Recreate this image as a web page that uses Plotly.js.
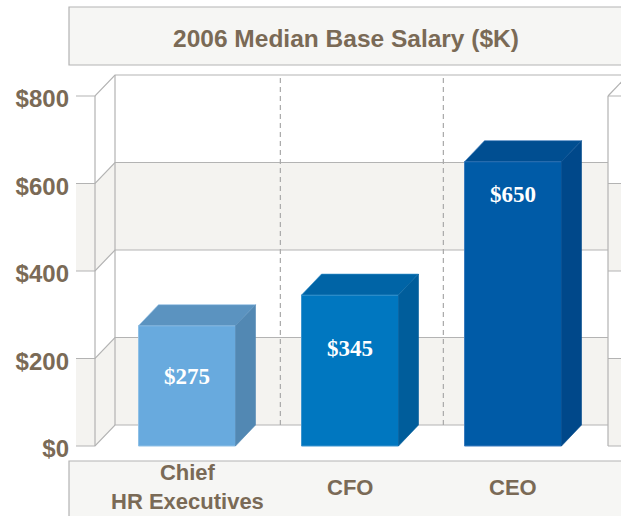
<!DOCTYPE html>
<html>
<head>
<meta charset="utf-8">
<script src="https://cdn.plot.ly/plotly-3.0.1.min.js"></script>
<style>html,body{margin:0;padding:0;background:#fff;}#chart{width:621px;height:516px;}</style>
</head>
<body>
<div id="chart"></div>
<script>
// ---- data ----
const chartTitle = '2006 Median Base Salary ($K)';
const categories = ['Chief<br>HR Executives', 'CFO', 'CEO'];
const salaries = [275, 345, 650];
const valueLabels = ['$275', '$345', '$650'];
const tickValues = [0, 200, 400, 600, 800];
const tickLabels = ['$0', '$200', '$400', '$600', '$800'];

// ---- styles ----
const frontColors = ['#68aade', '#0077c0', '#005ba7'];
const topColors   = ['#5b93c0', '#0064a6', '#004e91'];
const sideColors  = ['#5288b3', '#005d9b', '#00488a'];
const edgeColors  = ['#8fc0e6', '#3d95cf', '#3a7bbd'];
const labelDrop   = [115, 121, 76];
const TXT = '#7a6a56', GRID = '#b3b3b3', BAND = '#f4f3f0', BOX = '#f6f6f4';
const SANS = 'Liberation Sans, Arial, sans-serif';
const SERIF = 'Liberation Serif, Times New Roman, serif';

// ---- geometry (pixel anchors of the frame) ----
const W = 621, H = 516, ML = 76;
const PX0 = 187, PXU = 163;      // pixel of category 0, pixels per category
const PY0 = 446, PYU = 0.4375;   // pixel of $0, pixels per $K
const xr = [(ML - PX0) / PXU, (W - PX0) / PXU];
const yr = [(PY0 - H) / PYU, PY0 / PYU];
const DX = 20 / PXU, DY = 21 / PYU;
const X0 = (95 - PX0) / PXU;     // front-left axis
const XB = (608 - PX0) / PXU;    // back-right edge / next panel
const BAR_W = 97 / PXU;
const SEP_SHIFT = -0.05;
const ymax = tickValues[tickValues.length - 1];
const px = p => (p - ML) / (W - ML);
const py = p => 1 - p / H;
const path = pts => 'M' + pts.map(p => p[0] + ',' + p[1]).join('L');

const shapes = [];
// boxes
shapes.push({type:'rect', xref:'paper', yref:'paper', x0:px(69), x1:px(640), y0:py(65), y1:py(7),
  fillcolor:BOX, line:{color:GRID, width:1.2}, layer:'below'});
shapes.push({type:'rect', xref:'paper', yref:'paper', x0:px(69), x1:px(640), y0:py(540), y1:py(461),
  fillcolor:BOX, line:{color:GRID, width:1.2}, layer:'below'});
// bands
for (let i = 0; i + 1 < tickValues.length; i += 2) {
  const a = tickValues[i], b = tickValues[i + 1];
  shapes.push({type:'rect', xref:'x', yref:'y', x0:xr[0], x1:X0, y0:a, y1:b, fillcolor:BAND, line:{width:0}, layer:'below'});
  shapes.push({type:'path', xref:'x', yref:'y', path:path([[X0,a],[X0+DX,a+DY],[X0+DX,b+DY],[X0,b]])+'Z', fillcolor:BAND, line:{width:0}, layer:'below'});
  shapes.push({type:'rect', xref:'x', yref:'y', x0:X0+DX, x1:XB, y0:a+DY, y1:b+DY, fillcolor:BAND, line:{width:0}, layer:'below'});
  shapes.push({type:'rect', xref:'x', yref:'y', x0:XB, x1:xr[1]+0.2, y0:a, y1:b, fillcolor:BAND, line:{width:0}, layer:'below'});
}
const ln = {color:GRID, width:1.2};
// grid lines
tickValues.forEach(v => {
  const xend = v === ymax ? xr[1] + 0.2 : XB;
  shapes.push({type:'path', xref:'x', yref:'y', path:path([[xr[0],v],[X0,v],[X0+DX,v+DY],[xend,v+DY]]), line:ln, layer:'below'});
  shapes.push({type:'line', xref:'x', yref:'y', x0:XB, x1:xr[1]+0.2, y0:v, y1:v, line:ln, layer:'below'});
});
// verticals
shapes.push({type:'line', xref:'x', yref:'y', x0:X0, x1:X0, y0:0, y1:ymax, line:ln, layer:'below'});
shapes.push({type:'line', xref:'x', yref:'y', x0:X0+DX, x1:X0+DX, y0:DY, y1:ymax+DY, line:ln, layer:'below'});
shapes.push({type:'line', xref:'x', yref:'y', x0:XB, x1:XB, y0:0, y1:ymax, line:ln, layer:'below'});
shapes.push({type:'line', xref:'x', yref:'y', x0:XB, x1:XB+DX, y0:ymax, y1:ymax+DY, line:ln, layer:'below'});
// dashed category separators on back wall
for (let k = 0; k + 1 < categories.length; k++) {
  const xs = k + 0.5 + SEP_SHIFT + DX;
  shapes.push({type:'line', xref:'x', yref:'y', x0:xs, x1:xs, y0:DY, y1:ymax+DY,
    line:{color:'#a8a8a8', width:1.2, dash:'5px,4px'}, layer:'below'});
}

// ---- traces ----
const xs = categories.map((c, i) => i);
const traces = [{
  type:'bar', x:xs, y:salaries, width:BAR_W,
  marker:{color:frontColors, line:{color:edgeColors, width:1}},
  hoverinfo:'none', showlegend:false
}];
salaries.forEach((v, i) => {
  const l = xs[i] - BAR_W / 2, r = xs[i] + BAR_W / 2;
  traces.push({type:'scatter', mode:'lines', x:[l, l+DX, r+DX, r, l], y:[v, v+DY, v+DY, v, v],
    fill:'toself', fillcolor:topColors[i], line:{color:edgeColors[i], width:0.6}, hoverinfo:'none', showlegend:false});
  traces.push({type:'scatter', mode:'lines', x:[r, r+DX, r+DX, r, r], y:[0, DY, v+DY, v, 0],
    fill:'toself', fillcolor:sideColors[i], line:{color:sideColors[i], width:0.6}, hoverinfo:'none', showlegend:false});
});

// ---- annotations ----
const annotations = [];
salaries.forEach((v, i) => {
  annotations.push({x:xs[i], y:v - labelDrop[i], xref:'x', yref:'y', text:'<b>' + valueLabels[i] + '</b>',
    showarrow:false, font:{family:SERIF, size:23, color:'#ffffff'}, xanchor:'center', yanchor:'middle'});
});
categories.forEach((c, i) => {
  annotations.push({x:xs[i], y:py(487), xref:'x', yref:'paper',
    text:c.split('<br>').map(t => '<b>' + t + '</b>').join('<br>'), showarrow:false,
    font:{family:SANS, size:22, color:TXT}, xanchor:'center', yanchor:'middle'});
});

const layout = {
  width:W, height:H,
  margin:{l:ML, r:0, t:0, b:0, pad:0},
  paper_bgcolor:'#ffffff', plot_bgcolor:'#ffffff',
  title:{text:'<b>' + chartTitle + '</b>', font:{family:SANS, size:24.5, color:TXT},
    x:346 / W, xref:'container', xanchor:'center', y:1 - 38 / H, yref:'container', yanchor:'middle'},
  xaxis:{range:xr, showgrid:false, zeroline:false, showline:false, showticklabels:false, ticks:'', fixedrange:true},
  yaxis:{range:yr, showgrid:false, zeroline:false, showline:false, ticks:'',
    tickvals:tickValues, ticktext:tickLabels.map(t => '<b>' + t + '</b>'),
    tickfont:{family:SANS, size:24, color:TXT}, ticklabelstandoff:6, ticklabelshift:3, fixedrange:true},
  bargap:0, shapes:shapes, annotations:annotations, showlegend:false
};
Plotly.newPlot('chart', traces, layout, {displayModeBar:false, staticPlot:true});
</script>
</body>
</html>
